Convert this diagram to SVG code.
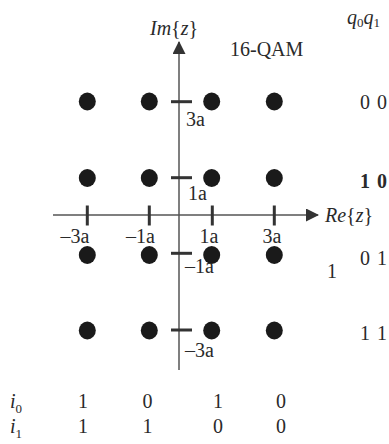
<svg xmlns="http://www.w3.org/2000/svg" width="389" height="444" viewBox="0 0 389 444">
<style>
text{font-family:"Liberation Serif","Times New Roman",serif;font-size:20px;fill:#2a2a2a}
.it{font-style:italic}
.sub{font-size:13px}
.mid{text-anchor:middle}
.end{text-anchor:end}
.axis{stroke:#555;stroke-width:1.5;fill:none}
.tick{stroke:#333;stroke-width:3}
.dot{fill:#1a1a1a}
</style>
<defs>
<marker id="arr" viewBox="0 0 13 13" refX="12" refY="6.5" markerWidth="13" markerHeight="13" markerUnits="userSpaceOnUse" orient="auto">
<path d="M0,0 L13,6.5 L0,13 Z" fill="#333"/>
</marker>
</defs>
<rect width="389" height="444" fill="#fff"/>
<g id="connectors">
<line class="axis" x1="53" y1="215" x2="318" y2="215" marker-end="url(#arr)"/>
<line class="axis" x1="179" y1="370" x2="179" y2="42" marker-end="url(#arr)"/>
<line class="tick" x1="87.3" y1="205.5" x2="87.3" y2="225.5"/>
<line class="tick" x1="149.3" y1="205.5" x2="149.3" y2="225.5"/>
<line class="tick" x1="212.3" y1="205.5" x2="212.3" y2="225.5"/>
<line class="tick" x1="274.3" y1="205.5" x2="274.3" y2="225.5"/>
<line class="tick" x1="171" y1="101.7" x2="192" y2="101.7"/>
<line class="tick" x1="171" y1="177.7" x2="192" y2="177.7"/>
<line class="tick" x1="171" y1="253.3" x2="192" y2="253.3"/>
<line class="tick" x1="171" y1="330" x2="192" y2="330"/>
</g>
<g id="dots">
<ellipse class="dot" cx="87.3" cy="101.5" rx="8.5" ry="9"/>
<ellipse class="dot" cx="149.3" cy="101.5" rx="8.5" ry="9"/>
<ellipse class="dot" cx="211.7" cy="101.5" rx="8.5" ry="9"/>
<ellipse class="dot" cx="274.3" cy="101.5" rx="8.5" ry="9"/>
<ellipse class="dot" cx="87.3" cy="178" rx="8.5" ry="9"/>
<ellipse class="dot" cx="149.3" cy="178" rx="8.5" ry="9"/>
<ellipse class="dot" cx="211.7" cy="178" rx="8.5" ry="9"/>
<ellipse class="dot" cx="274.3" cy="178" rx="8.5" ry="9"/>
<ellipse class="dot" cx="87.3" cy="255" rx="8.5" ry="9"/>
<ellipse class="dot" cx="149.3" cy="255" rx="8.5" ry="9"/>
<ellipse class="dot" cx="211.7" cy="255" rx="8.5" ry="9"/>
<ellipse class="dot" cx="274.3" cy="255" rx="8.5" ry="9"/>
<ellipse class="dot" cx="87.3" cy="330.5" rx="8.5" ry="9"/>
<ellipse class="dot" cx="149.3" cy="330.5" rx="8.5" ry="9"/>
<ellipse class="dot" cx="211.7" cy="330.5" rx="8.5" ry="9"/>
<ellipse class="dot" cx="274.3" cy="330.5" rx="8.5" ry="9"/>
</g>
<g id="axis-labels">
<text x="150" y="35"><tspan class="it">Im</tspan>{<tspan class="it">z</tspan>}</text>
<text x="325" y="222"><tspan class="it">Re</tspan>{<tspan class="it">z</tspan>}</text>
<text x="230" y="56">16-QAM</text>
<text x="347" y="24"><tspan class="it">q</tspan><tspan class="sub" dy="3">0</tspan><tspan class="it" dy="-3">q</tspan><tspan class="sub" dy="3">1</tspan></text>
</g>
<g id="tick-labels">
<text x="186" y="126">3a</text>
<text x="188" y="200">1a</text>
<text x="185" y="273">–1a</text>
<text x="185" y="357">–3a</text>
<text class="mid" x="75" y="243">–3a</text>
<text class="mid" x="140.5" y="243">–1a</text>
<text class="mid" x="209" y="243">1a</text>
<text class="mid" x="272" y="243">3a</text>
</g>
<g id="row-labels">
<text class="end" x="387" y="109" word-spacing="2">0 0</text>
<text class="end" x="387" y="188" word-spacing="2" font-weight="bold">1 0</text>
<text class="end" x="387" y="265" word-spacing="2">0 1</text>
<text x="327" y="278">1</text>
<text class="end" x="387" y="340" word-spacing="2">1 1</text>
</g>
<g id="column-labels">
<text x="10" y="408"><tspan class="it">i</tspan><tspan class="sub" dy="5">0</tspan></text>
<text x="10" y="433"><tspan class="it">i</tspan><tspan class="sub" dy="5">1</tspan></text>
<text class="mid" x="83" y="408">1</text>
<text class="mid" x="147.5" y="408">0</text>
<text class="mid" x="218" y="408">1</text>
<text class="mid" x="281" y="408">0</text>
<text class="mid" x="83" y="433">1</text>
<text class="mid" x="147.5" y="433">1</text>
<text class="mid" x="218" y="433">0</text>
<text class="mid" x="281" y="433">0</text>
</g>
</svg>
